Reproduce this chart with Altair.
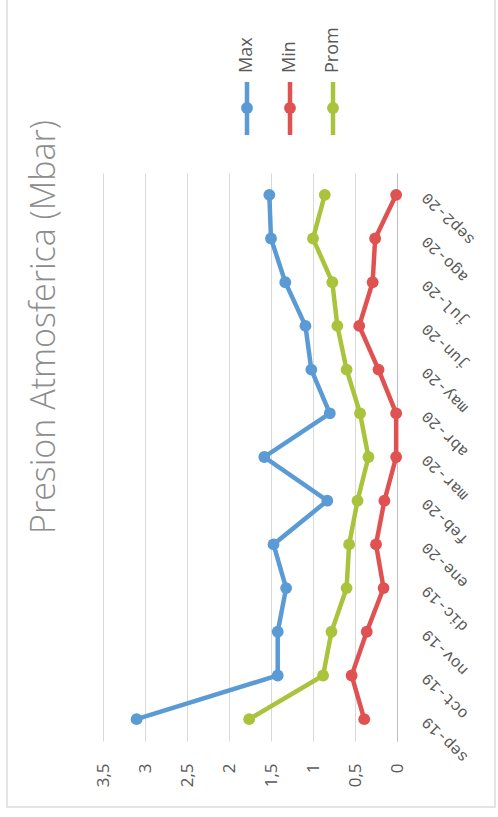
import altair as alt
import pandas as pd

months = ["sep-19", "oct-19", "nov-19", "dic-19", "ene-20", "feb-20", "mar-20",
          "abr-20", "may-20", "jun-20", "jul-20", "ago-20", "sep2-20"]
series = ["Max", "Min", "Prom"]
colors = ["#5b9bd5", "#e05252", "#a9c43c"]
max_vals = [3.10, 1.42, 1.42, 1.32, 1.47, 0.83, 1.58, 0.80, 1.02, 1.09, 1.33, 1.50, 1.52]
min_vals = [0.39, 0.54, 0.36, 0.16, 0.25, 0.15, 0.01, 0.01, 0.22, 0.45, 0.29, 0.26, 0.01]
prom_vals = [1.76, 0.88, 0.78, 0.60, 0.57, 0.47, 0.34, 0.44, 0.60, 0.71, 0.77, 1.00, 0.86]
x_ticks = [0, 0.5, 1, 1.5, 2, 2.5, 3, 3.5]
title_text = "Presion Atmosferica (Mbar)"

rows = []
for s, vals in zip(series, [max_vals, min_vals, prom_vals]):
    for i, (m, v) in enumerate(zip(months, vals)):
        rows.append({"series": s, "month": m, "idx": i, "value": v})
df = pd.DataFrame(rows)
leg = pd.DataFrame({"series": series})
one = pd.DataFrame({"a": [0]})

color = alt.Color("series:N", scale=alt.Scale(domain=series, range=colors), legend=None)

x_main = alt.X("value:Q",
               scale=alt.Scale(domain=[0, 3.5], reverse=True, nice=False),
               axis=alt.Axis(values=x_ticks, title=None, domain=False, ticks=False,
                             grid=True, gridColor="#d9d9d9", gridWidth=1,
                             labelAngle=270, labelAlign="right", labelBaseline="middle",
                             labelPadding=22, labelFontSize=17, labelColor="#595959",
                             labelFont="Open Sans",
                             labelExpr="replace(toString(datum.value), '.', ',')"))
y_main = alt.Y("month:N",
               scale=alt.Scale(domain=months[::-1]),
               axis=alt.Axis(orient="right", title=None, ticks=False, grid=False,
                             domain=True, domainColor="#bfbfbf",
                             labelAngle=225, labelAlign="right", labelBaseline="middle",
                             labelPadding=27, labelFontSize=16, labelColor="#595959",
                             labelFont="Liberation Mono"))

base = alt.Chart(df)
lines = base.mark_line(strokeWidth=4.5).encode(x=x_main, y=y_main, color=color,
                                               order=alt.Order("idx:Q"))
points = base.mark_circle(size=140, opacity=1).encode(x=x_main, y=y_main, color=color)

border = alt.Chart(one).mark_rect(fill=None, stroke="#dcdcdc", strokeWidth=1.5).encode(
    x=alt.value(-96), x2=alt.value(392), y=alt.value(-180), y2=alt.value(634))

title = alt.Chart(one).transform_calculate(t=f"'{title_text}'").mark_text(
    angle=270, align="center", baseline="middle", fontSize=34, font="Open Sans",
    fontWeight=300, color="#8c8c8c").encode(
    x=alt.value(-58), y=alt.value(154), text="t:N")

main = alt.layer(border, title, lines, points)

x_leg = alt.X("series:N",
              scale=alt.Scale(type="band", domain=series, range=[122.5, 251.5],
                              paddingInner=0, paddingOuter=0),
              axis=None)
leg_base = alt.Chart(leg)
leg_rule = leg_base.mark_rule(strokeWidth=4.5).encode(
    x=x_leg, y=alt.value(-91), y2=alt.value(-38), color=color)
leg_pt = leg_base.mark_circle(size=140, opacity=1).encode(
    x=x_leg, y=alt.value(-65), color=color)
leg_txt = leg_base.mark_text(angle=270, align="left", baseline="middle",
                             fontSize=18, font="Open Sans", color="#595959").encode(
    x=x_leg, y=alt.value(-100), text="series:N")
legend = alt.layer(leg_rule, leg_pt, leg_txt)

chart = alt.layer(main, legend).resolve_scale(x="independent").properties(
    width=294, height=568,
    padding={"left": 103, "top": 173, "right": 101, "bottom": 76},
    autosize="none", background="white").configure_view(stroke=None)

chart.save("out.html", embed_options={"renderer": "svg", "actions": False})
